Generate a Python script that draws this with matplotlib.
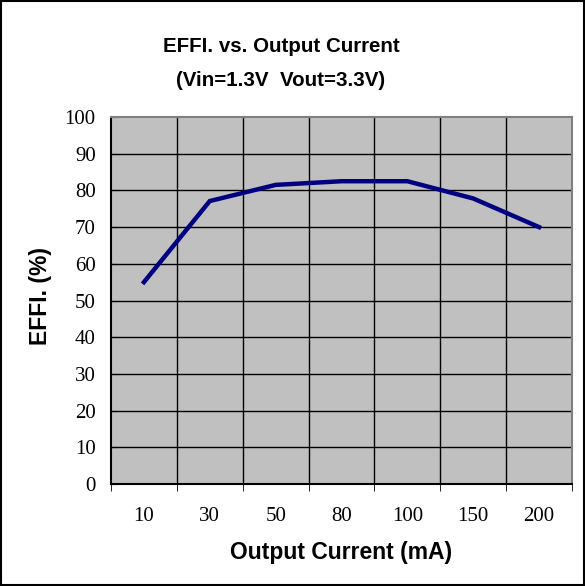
import matplotlib
matplotlib.use("Agg")
import matplotlib.pyplot as plt
from matplotlib.patches import Rectangle
import numpy as np

categories = ["10", "30", "50", "80", "100", "150", "200"]
efficiency = [55.0, 77.1, 81.5, 82.5, 82.5, 77.8, 70.0]
y_ticks = [0, 10, 20, 30, 40, 50, 60, 70, 80, 90, 100]

fig = plt.figure(figsize=(5.85, 5.86), dpi=100)
W, H = 585, 586
ax = fig.add_axes([111 / W, 1 - 484 / H, (572 - 111) / W, (484 - 117) / H])

x = np.arange(len(categories))
ax.set_facecolor("#c0c0c0")
ax.set_xlim(-0.5, len(categories) - 0.5)
ax.set_ylim(0, 100)

# grid: horizontal at y ticks, vertical at category boundaries
for yv in y_ticks[1:-1]:
    ax.axhline(yv, color="black", lw=1.0, zorder=1)
for b in np.arange(0.5, len(categories) - 0.5, 1.0):
    ax.axvline(b, color="black", lw=1.0, zorder=1)

ax.plot(x, efficiency, color="#000080", lw=3.2, zorder=3, solid_joinstyle="miter")

ax.set_yticks(y_ticks)
ax.set_yticklabels([str(v) for v in y_ticks], fontfamily="Liberation Serif", fontsize=15)
ax.set_xticks(x)
ax.set_xticklabels(categories, fontfamily="Liberation Serif", fontsize=15)
ax.tick_params(axis="x", length=0, pad=16.5)
ax.tick_params(axis="y", length=4, direction="in", pad=11)
# minor ticks at category boundaries on x
ax.set_xticks(np.arange(-0.5, len(categories), 1.0), minor=True)
ax.tick_params(axis="x", which="minor", length=5, direction="out")

for s in ["top", "right"]:
    ax.spines[s].set_color("#808080")
    ax.spines[s].set_linewidth(1.5)
for s in ["left", "bottom"]:
    ax.spines[s].set_color("black")
    ax.spines[s].set_linewidth(1.5)

fig.text(281 / W, 1 - 47 / H, "EFFI. vs. Output Current", ha="center", va="center",
         fontfamily="Liberation Sans", fontweight="bold", fontsize=14.8)
fig.text(281 / W, 1 - 80 / H, "(Vin=1.3V  Vout=3.3V)", ha="center", va="center",
         fontfamily="Liberation Sans", fontweight="bold", fontsize=14.8)
fig.text(341 / W, 1 - 552 / H, "Output Current (mA)", ha="center", va="center",
         fontfamily="Liberation Sans", fontweight="bold", fontsize=16.5)
fig.text(40 / W, 1 - 296 / H, "EFFI. (%)", ha="center", va="center", rotation=90,
         fontfamily="Liberation Sans", fontweight="bold", fontsize=16.5)

fig.patches.append(Rectangle((1 / W, 1 / H), (W - 2) / W, (H - 2) / H, transform=fig.transFigure,
                             fill=False, edgecolor="black", lw=1.5))

fig.savefig("out.png", dpi=100)
